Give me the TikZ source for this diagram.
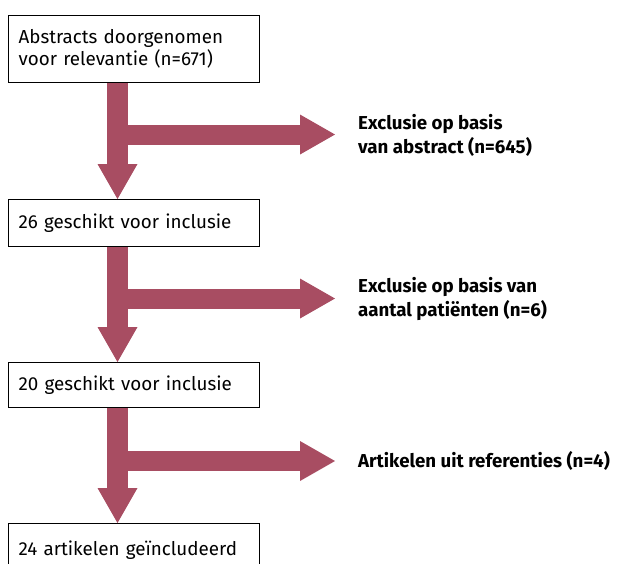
\documentclass[tikz,border=0pt]{standalone}
\usepackage{fontspec}
\setmainfont{Fira Sans}
\usetikzlibrary{arrows.meta,calc}
\definecolor{wine}{RGB}{168,77,98}
\begin{document}
\begin{tikzpicture}[x=1pt,y=1pt,
  box/.style={draw=black,line width=1.2pt,fill=white,anchor=north west,minimum width=251pt,text width=231pt,inner xsep=10pt,inner ysep=0pt,align=left,font=\fontsize{18.8}{22}\selectfont},
  lbl/.style={anchor=west,inner sep=0pt,align=left,font=\fontsize{18.7}{24}\selectfont\bfseries},
  flow/.style={draw=wine,line width=21pt,-{Triangle[width=40pt,length=35pt,line width=0pt]}}]
\useasboundingbox (0,0) rectangle (617,-563);
\clip (0,0) rectangle (617,-563);
% boxes
\node[box,minimum height=67pt] (b1) at (8,-15) {Abstracts doorgenomen\\voor relevantie (n=671)};
\node[box,minimum height=47pt] (b2) at (8,-199) {26 geschikt voor inclusie};
\node[box,minimum height=45pt] (b3) at (8,-362) {20 geschikt voor inclusie};
\node[box,minimum height=54pt] (b4) at (8,-523) {24 artikelen geïncludeerd};
% labels
\node[lbl] (l1) at (358,-135) {Exclusie op basis\\van abstract (n=645)};
\node[lbl] (l2) at (358,-299) {Exclusie op basis van\\aantal patiënten (n=6)};
\node[lbl] (l3) at (358,-461) {Artikelen uit referenties (n=4)};
% junction points and arrow ends
\coordinate (j1) at (107,-134.5);
\coordinate (j2) at (107,-298.5);
\coordinate (j3) at (107,-461);
\coordinate (e1) at ($(l1.west |- j1)+(-23,0)$);
\coordinate (e2) at ($(l2.west |- j2)+(-23,0)$);
\coordinate (e3) at ($(l3.west |- j3)+(-23,0)$);
% vertical flows
\draw[flow] ($(b1.south west)+(109.5,0)$) -- ($(b2.north west)+(109.5,0)$);
\draw[flow] ($(b2.south west)+(109.5,0)$) -- ($(b3.north west)+(109.5,0)$);
\draw[flow] ($(b3.south west)+(109.5,0)$) -- ($(b4.north west)+(109.5,0)$);
% side flows
\draw[flow,line width=20pt] (j1) -- (e1);
\draw[flow,line width=20pt] (j2) -- (e2);
\draw[flow,line width=20pt] (j3) -- (e3);
\end{tikzpicture}
\end{document}
